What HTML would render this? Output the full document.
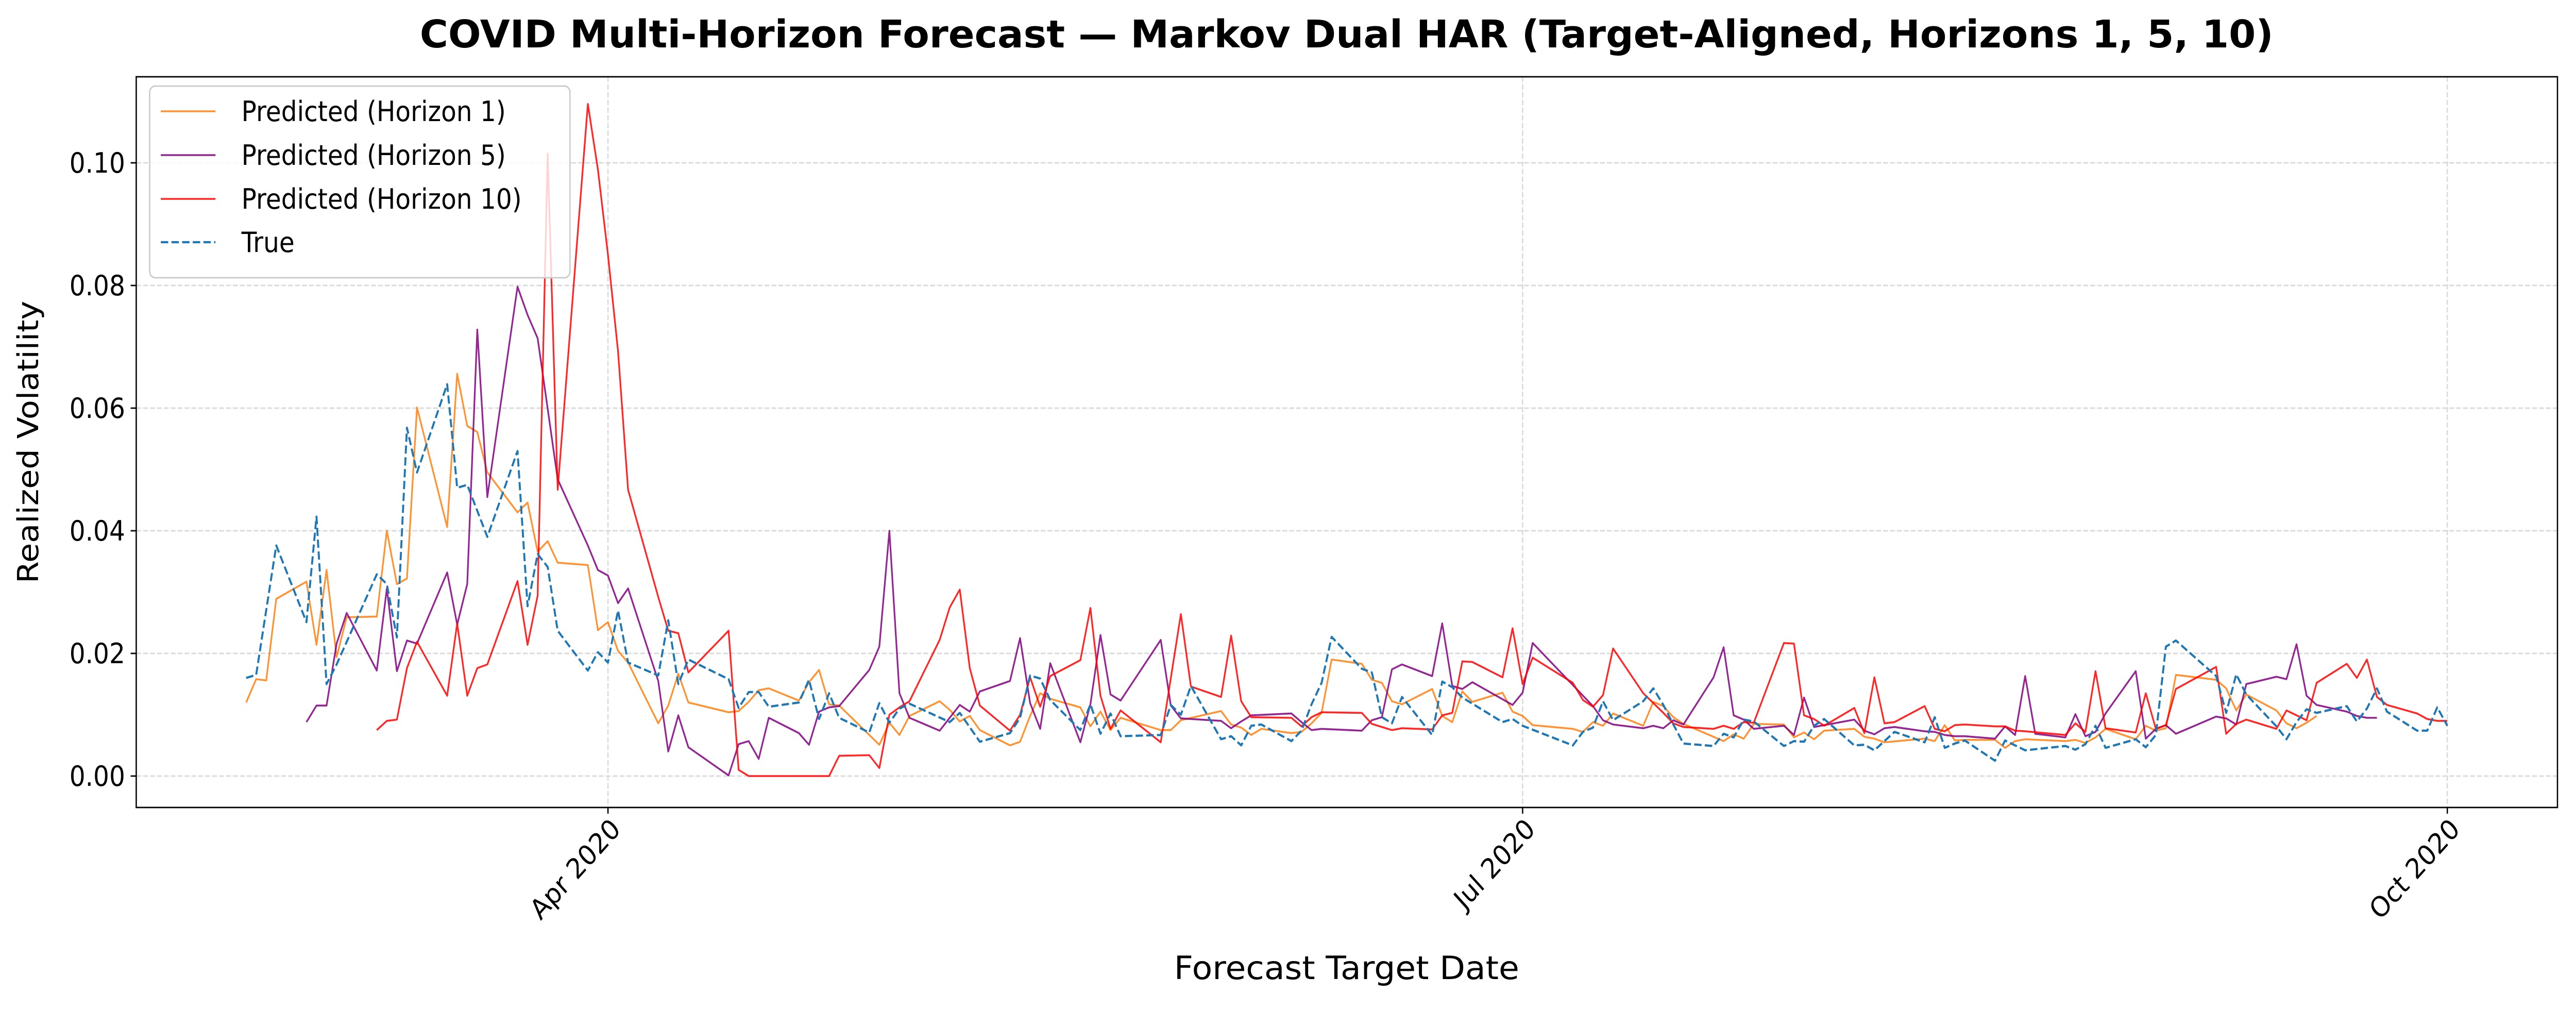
<!DOCTYPE html>
<html><head><meta charset="utf-8"><title>COVID Multi-Horizon Forecast</title>
<style>html,body{margin:0;padding:0;background:#fff;overflow:hidden;width:100%;height:100%;}svg{display:block;width:100vw;height:100vh;}text{font-family:"DejaVu Sans","Liberation Sans",sans-serif;}</style>
</head><body>
<svg id="chart" xmlns="http://www.w3.org/2000/svg" viewBox="0 0 5559 1960" preserveAspectRatio="none">
<defs><clipPath id="plotclip"><rect x="294" y="149" width="5225" height="1418"/></clipPath></defs>
<rect x="0" y="0" width="5559" height="1960" fill="#fff"/>
<g id="grid"></g>
<g id="series" clip-path="url(#plotclip)"></g>
<rect x="294" y="149" width="5225" height="1418" fill="none" stroke="#000" stroke-width="2.8"/>
<g id="axes"></g>
<text x="2906" y="92" text-anchor="middle" font-size="74" font-weight="bold" textLength="4000" lengthAdjust="spacingAndGlyphs">COVID Multi-Horizon Forecast — Markov Dual HAR (Target-Aligned, Horizons 1, 5, 10)</text>
<text x="0" y="0" transform="translate(82,858) rotate(-90)" text-anchor="middle" font-size="62">Realized Volatility</text>
<text x="2906" y="1900" text-anchor="middle" font-size="62" textLength="745" lengthAdjust="spacingAndGlyphs">Forecast Target Date</text>
<g id="legend">
<rect x="323" y="167" width="907" height="372" rx="12" fill="#fff" fill-opacity="0.8" stroke="#cccccc" stroke-width="3"/>
</g>
</svg>
<script>
// day offsets relative to 2020-04-01; values in units of 0.01
const h1Days=[-36,-35,-34,-33,-30,-29,-28,-27,-26,-23,-22,-21,-20,-19,-16,-15,-14,-13,-12,-9,-8,-7,-6,-5,-2,-1,0,1,2,5,6,7,8,12,13,14,15,16,19,20,21,22,23,27,28,29,30,33,34,35,36,37,40,41,42,43,44,47,48,49,50,51,55,56,57,61,62,63,64,65,68,69,70,71,72,75,76,77,78,79,82,83,84,85,86,89,90,91,92,96,97,98,99,100,103,104,105,106,107,111,112,113,114,117,118,119,120,121,124,125,126,127,131,132,133,134,135,138,139,140,141,145,146,147,148,149,152,153,154,155,156,160,161,162,163,166,167,168,169,170];
const h1Vals=[1.20,1.58,1.56,2.89,3.17,2.14,3.36,1.94,2.59,2.60,4.00,3.13,3.22,6.01,4.06,6.56,5.71,5.61,4.95,4.30,4.46,3.66,3.83,3.48,3.44,2.38,2.51,2.04,1.85,0.86,1.15,1.67,1.20,1.04,1.06,1.21,1.40,1.43,1.23,1.53,1.73,1.17,1.15,0.51,0.87,0.67,0.98,1.22,1.08,0.89,0.98,0.75,0.50,0.56,0.98,1.35,1.26,1.12,0.81,1.05,0.75,0.95,0.75,0.75,0.91,1.06,0.84,0.79,0.67,0.77,0.70,0.72,0.86,1.03,1.90,1.83,1.57,1.52,1.22,1.17,1.42,0.98,0.88,1.38,1.21,1.36,1.05,0.98,0.83,0.77,0.72,0.88,0.82,1.02,0.82,1.21,1.14,0.96,0.85,0.57,0.68,0.61,0.85,0.84,0.63,0.71,0.60,0.74,0.77,0.64,0.61,0.55,0.61,0.57,0.83,0.58,0.59,0.59,0.46,0.57,0.60,0.57,0.59,0.54,0.63,0.77,0.60,0.82,0.74,0.78,1.65,1.57,1.43,1.07,1.33,1.07,0.86,0.78,0.87,0.98];
const h5Days=[-30,-29,-28,-27,-26,-23,-22,-21,-20,-19,-16,-15,-14,-13,-12,-9,-8,-7,-6,-5,-2,-1,0,1,2,5,6,7,8,12,13,14,15,16,19,20,21,22,23,26,27,28,29,30,33,35,36,37,40,41,42,43,44,47,48,49,50,51,55,56,57,61,62,63,64,68,69,70,71,75,76,77,78,79,82,83,84,85,86,90,91,92,98,99,100,103,104,105,106,107,110,111,112,113,114,117,118,119,120,124,125,126,127,128,131,132,133,134,135,138,139,140,141,142,145,146,147,148,149,152,153,154,155,156,160,161,162,163,166,167,168,169,170,173,174,175,176];
const h5Vals=[0.88,1.15,1.15,2.16,2.66,1.72,3.06,1.71,2.21,2.16,3.32,2.47,3.13,7.28,4.55,7.98,7.52,7.14,5.99,4.84,3.76,3.36,3.27,2.82,3.06,1.55,0.40,0.99,0.47,0.01,0.52,0.57,0.28,0.95,0.70,0.51,1.05,1.12,1.14,1.73,2.11,4.00,1.35,0.95,0.74,1.16,1.05,1.38,1.55,2.25,1.19,0.77,1.84,0.55,1.17,2.30,1.33,1.23,2.22,1.15,0.94,0.90,0.78,0.89,0.99,1.02,0.88,0.75,0.77,0.74,0.91,0.96,1.74,1.82,1.63,2.49,1.47,1.42,1.53,1.16,1.36,2.17,1.14,0.91,0.84,0.78,0.82,0.78,0.91,0.84,1.61,2.10,0.99,0.92,0.77,0.82,0.67,1.28,0.80,0.92,0.74,0.68,0.78,0.80,0.73,0.72,0.67,0.65,0.65,0.61,0.81,0.67,1.63,0.69,0.63,1.01,0.65,0.72,1.02,1.71,0.61,0.77,0.83,0.69,0.97,0.94,0.84,1.50,1.62,1.58,2.15,1.31,1.16,1.05,0.98,0.95,0.95];
const h10Days=[-23,-22,-21,-20,-19,-16,-15,-14,-13,-12,-9,-8,-7,-6,-5,-2,-1,0,1,2,5,6,7,8,12,13,14,15,16,19,20,21,22,23,26,27,28,29,30,33,34,35,36,37,40,41,42,43,44,47,48,49,50,51,55,57,58,61,62,63,64,68,69,70,71,75,76,78,79,82,83,84,85,86,89,90,91,92,96,97,98,99,100,103,105,106,107,110,111,112,113,114,117,118,119,120,121,124,125,126,127,128,131,132,133,134,135,138,139,140,141,145,146,147,148,149,152,153,154,155,156,160,161,162,163,166,167,169,170,173,174,175,176,177,180,181,182,183];
const h10Vals=[0.75,0.90,0.92,1.76,2.19,1.31,2.49,1.31,1.76,1.82,3.18,2.14,2.94,10.15,4.67,10.96,9.89,8.50,6.93,4.67,2.92,2.37,2.33,1.69,2.37,0.10,0,0,0,0,0,0,0,0.33,0.34,0.13,1.00,1.12,1.22,2.22,2.75,3.04,1.76,1.15,0.74,1.00,1.61,1.13,1.63,1.89,2.74,1.31,0.77,1.07,0.55,2.64,1.46,1.29,2.29,1.22,0.96,0.95,0.81,0.96,1.04,1.03,0.85,0.75,0.78,0.76,0.99,1.03,1.87,1.86,1.61,2.41,1.50,1.93,1.52,1.24,1.13,1.32,2.08,1.35,1.03,0.86,0.80,0.77,0.82,0.77,0.88,0.87,2.17,2.16,0.99,0.93,0.82,1.11,0.70,1.61,0.86,0.88,1.14,0.77,0.73,0.83,0.84,0.81,0.81,0.74,0.73,0.67,0.86,0.72,1.71,0.78,0.71,1.35,0.77,0.83,1.42,1.78,0.69,0.85,0.92,0.77,1.07,0.91,1.52,1.83,1.60,1.90,1.29,1.16,1.02,0.93,0.90,0.90];
const trueDays=[-36,-35,-33,-30,-29,-28,-27,-23,-22,-21,-20,-19,-16,-15,-14,-12,-9,-8,-7,-6,-5,-2,-1,0,1,2,5,6,7,8,12,13,14,15,16,19,20,21,22,23,26,27,28,29,30,34,35,37,40,41,42,43,44,47,48,49,50,51,55,56,57,58,61,62,63,64,65,68,69,70,71,72,75,76,77,78,79,82,83,84,85,89,90,91,96,97,98,99,100,103,104,105,106,107,110,111,112,113,114,117,118,119,120,121,124,125,126,127,128,131,132,133,134,135,138,139,141,145,146,147,148,149,152,153,154,155,156,160,161,162,163,166,167,168,169,170,173,174,175,176,177,180,181,182,183];
const trueVals=[1.60,1.65,3.76,2.51,4.23,1.50,1.82,3.29,3.13,2.26,5.68,4.95,6.39,4.70,4.75,3.90,5.30,2.77,3.62,3.41,2.37,1.72,2.02,1.85,2.70,1.85,1.64,2.54,1.50,1.90,1.58,1.11,1.37,1.37,1.13,1.20,1.57,0.93,1.35,0.95,0.71,1.19,0.87,1.10,1.18,0.88,1.03,0.56,0.70,0.95,1.64,1.59,1.24,0.75,1.17,0.69,1.02,0.65,0.67,1.16,1.00,1.47,0.60,0.65,0.50,0.82,0.84,0.57,0.74,1.17,1.52,2.27,1.75,1.69,0.96,0.86,1.29,0.67,1.54,1.45,1.28,0.88,0.93,0.82,0.50,0.72,0.79,1.22,0.91,1.22,1.43,1.16,0.84,0.53,0.49,0.69,0.63,0.92,0.89,0.49,0.57,0.56,0.82,0.93,0.50,0.51,0.42,0.57,0.72,0.55,0.96,0.46,0.53,0.58,0.25,0.58,0.42,0.49,0.43,0.52,0.82,0.46,0.60,0.47,0.67,2.11,2.21,1.63,1.03,1.66,1.33,0.81,0.60,0.88,1.09,1.03,1.14,0.89,1.10,1.43,1.05,0.74,0.74,1.12,0.82];
const yTicks=[0,0.02,0.04,0.06,0.08,0.10];
const yTickLabels=["0.00","0.02","0.04","0.06","0.08","0.10"];
const xTickDays=[0,91,183];
const xTickLabels=["Apr 2020","Jul 2020","Oct 2020"];
const legendLabels=["Predicted (Horizon 1)","Predicted (Horizon 5)","Predicted (Horizon 10)","True"];

const NS="http://www.w3.org/2000/svg";
const L=294,R=5519,T=149,B=1567;
function xScale(d){return 1312+d*21.69;}
function yScale(v){return 1506-v*11900;}
function mk(tag,attrs,parent){const e=document.createElementNS(NS,tag);for(const k in attrs)e.setAttribute(k,attrs[k]);parent.appendChild(e);return e;}
const grid=document.getElementById('grid'),axes=document.getElementById('axes'),series=document.getElementById('series'),legend=document.getElementById('legend');

yTicks.forEach((t,i)=>{
  const y=yScale(t);
  const g=mk('line',{x1:L,x2:R,y1:y,y2:y,stroke:'#d9d9d9','stroke-width':2.8,'stroke-dasharray':'10.4,4.5'},grid);
  
  
  const tk=mk('line',{x1:L-12,x2:L,y1:y,y2:y,stroke:'#000','stroke-width':2.8},axes);
  
  
  const tx=mk('text',{x:L-24,y:y+19,'text-anchor':'end','font-size':54},axes);
  tx.textContent=yTickLabels[i];
  
  
});
xTickDays.forEach((d,i)=>{
  const x=xScale(d);
  const g=mk('line',{x1:x,x2:x,y1:T,y2:B,stroke:'#d9d9d9','stroke-width':2.8,'stroke-dasharray':'10.4,4.5'},grid);
  
  
  const tk=mk('line',{x1:x,x2:x,y1:B,y2:B+12,stroke:'#000','stroke-width':2.8},axes);
  
  
  const tx=mk('text',{x:0,y:0,'text-anchor':'end','font-size':54,transform:'translate('+(x+30)+','+(B+45)+') rotate(-45)'},axes);
  tx.textContent=xTickLabels[i];
  
  
});

function drawLine(days,vals,color,width,dash,opacity,name){
  const n=Math.min(days.length,vals.length);
  let d='';
  for(let i=0;i<n;i++){d+=(i?'L':'M')+xScale(days[i]).toFixed(1)+','+yScale(vals[i]/100).toFixed(1);}
  const p=mk('path',{d:d,fill:'none',stroke:color,'stroke-width':width,'stroke-opacity':opacity,'stroke-linejoin':'round'},series);
  if(dash)p.setAttribute('stroke-dasharray',dash);
  
  
}
drawLine(h1Days,h1Vals,'#ff7f0e',3.6,null,0.85,'series-horizon-1');
drawLine(h5Days,h5Vals,'#800080',3.6,null,0.85,'series-horizon-5');
drawLine(h10Days,h10Vals,'#ff0000',3.6,null,0.85,'series-horizon-10');
drawLine(trueDays,trueVals,'#1f77b4',4.3,'16,7',1,'series-true');

const legColors=['#ff7f0e','#800080','#ff0000','#1f77b4'];
const legY=[216,301,386,470];
legendLabels.forEach((lab,i)=>{
  const ln=mk('line',{x1:347,x2:465,y1:legY[i],y2:legY[i],stroke:legColors[i],'stroke-width':i==3?4.3:3.6,'stroke-opacity':i==3?1:0.85},legend);
  if(i==3)ln.setAttribute('stroke-dasharray','16,7');
  
  
  const tx=mk('text',{x:521,y:legY[i]+19,'font-size':54},legend);
  tx.textContent=lab;
  
  
});
</script>
</body></html>
